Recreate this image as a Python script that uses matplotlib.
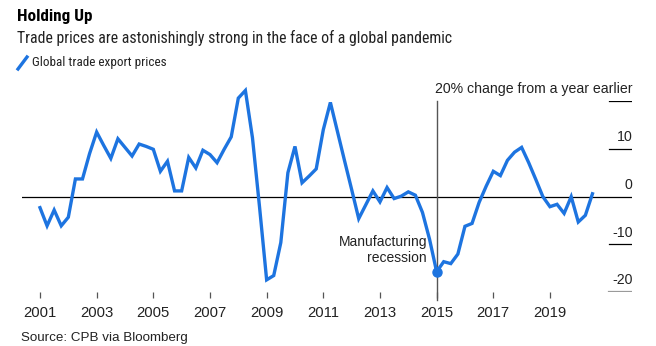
import matplotlib
matplotlib.use("Agg")
import matplotlib.pyplot as plt
from matplotlib.lines import Line2D
import matplotlib.transforms as mtransforms
import numpy as np

plt.rcParams['font.family'] = ['Liberation Sans', 'DejaVu Sans']
NARROW = ['Roboto Condensed', 'Liberation Sans', 'DejaVu Sans']

# Quarterly year-over-year change in global trade export prices, 2001Q1 - 2020Q3
start_year = 2001
values = [
    -2.3, -6.1, -2.8, -6.1, -4.3, 3.7, 3.7, 9.0,
    13.5, 10.7, 8.0, 12.1, 10.3, 8.5, 11.0, 10.5,
    9.9, 5.3, 7.4, 1.2, 1.2, 8.2, 6.0, 9.7,
    8.8, 7.1, 9.9, 12.5, 20.6, 22.2, 12.3, -2.2,
    -17.4, -16.5, -9.6, 5.0, 10.5, 2.9, 4.3, 5.8,
    14.0, 19.7, 13.6, 7.5, 1.5, -4.6, -1.7, 1.2,
    -1.1, 1.9, -0.4, 0.1, 1.0, 0.3, -3.3, -8.9,
    -15.7, -13.6, -14.0, -12.0, -6.2, -5.6, -1.2, 2.2,
    5.3, 4.4, 7.6, 9.3, 10.3, 7.1, 3.6, 0.0,
    -2.1, -1.6, -3.5, 0.0, -5.3, -3.9, 0.6,
]
years = start_year + np.arange(len(values)) * 0.25

x_ticks = [2001, 2003, 2005, 2007, 2009, 2011, 2013, 2015, 2017, 2019]
x_tick_labels = [str(y) for y in x_ticks]
y_levels = [20, 10, 0, -10, -20]
y_labels = ["20% change from a year earlier", "10", "0", "-10", "-20"]

recession_year = 2015.0
recession_value = values[int((recession_year - start_year) * 4)]

BLUE = "#1d74e0"
W, H = 656, 346

fig = plt.figure(figsize=(W / 100, H / 100), dpi=100)
ax = fig.add_axes([22 / W, 1 - 292.3 / H, 610 / W, (292.3 - 101) / H])
ax.set_xlim(2000.365, 2021.896)
ax.set_ylim(-20, 20)
for s in ax.spines.values():
    s.set_visible(False)

# short reference lines at the right edge, full zero line
for lvl in y_levels:
    if lvl == 0:
        ax.axhline(0, color="black", lw=0.9, zorder=2)
    else:
        ax.axhline(lvl, xmin=0.962, xmax=1.0,
                   color="#9a9a9a" if lvl == -20 else "black",
                   lw=1.6 if lvl == -20 else 0.9, zorder=2)

trans = mtransforms.blended_transform_factory(ax.transAxes, ax.transData)
for lvl, lab in zip(y_levels, y_labels):
    ax.annotate(lab, xy=(1.0, lvl), xycoords=trans, xytext=(0.5, 8.6),
                textcoords="offset points", ha="right", va="center",
                fontsize=10.2, color="#222222")

# vertical marker line at 2015
ax.plot([recession_year, recession_year], [20, -21.6], color="#555555",
        lw=1.0, clip_on=False, zorder=2)

ax.plot(years, values, color=BLUE, lw=2.4, solid_joinstyle="miter",
        clip_on=False, zorder=3)
ax.plot([recession_year], [recession_value], "o", color=BLUE, ms=6.5,
        clip_on=False, zorder=4)
ax.annotate("Manufacturing\nrecession", xy=(recession_year, recession_value),
            xytext=(-7, 15.6), textcoords="offset points", ha="right", va="center",
            fontsize=10, color="#222222", linespacing=1.15)

ax.set_xticks(x_ticks)
ax.set_xticklabels(x_tick_labels, fontsize=10.7, color="#222222")
ax.tick_params(axis="x", length=4.5, width=0.9, color="#555555", pad=5.5)
ax.set_yticks([])

fig.text(17 / W, 1 - 16 / H, "Holding Up", fontsize=12.3, fontweight="bold",
         family=NARROW, ha="left", va="center", color="black")
fig.text(17 / W, 1 - 38.3 / H, "Trade prices are astonishingly strong in the face of a global pandemic",
         fontsize=11.4, family=NARROW, ha="left", va="center", color="#222222")
fig.add_artist(Line2D([18 / W, 27 / W], [1 - 69 / H, 1 - 57 / H], color=BLUE, lw=2.4,
                      transform=fig.transFigure))
fig.text(32 / W, 1 - 62.7 / H, "Global trade export prices", fontsize=9.5,
         family=NARROW, ha="left", va="center", color="#222222")
fig.text(21 / W, 1 - 337.7 / H, "Source: CPB via Bloomberg", fontsize=9.6,
         ha="left", va="center", color="#222222")

fig.savefig("out.png", dpi=100)
